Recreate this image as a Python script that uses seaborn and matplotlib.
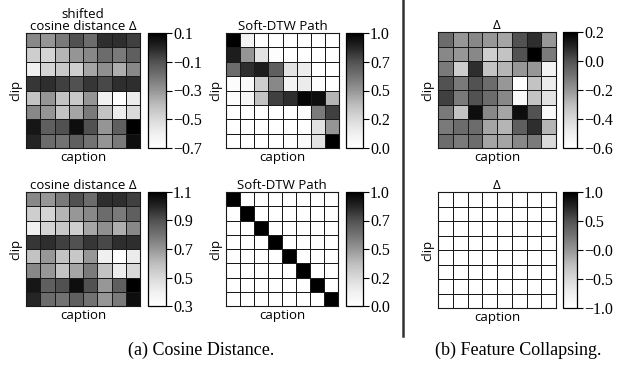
import matplotlib
matplotlib.use("Agg")
import matplotlib.pyplot as plt
import seaborn as sns
import numpy as np

# Values (8 clips x 8 captions)
shifted_cos = [
    [-0.26, -0.30, -0.22, -0.10, -0.18, -0.02, -0.02, -0.06],
    [-0.46, -0.48, -0.38, -0.30, -0.26, -0.18, -0.22, -0.14],
    [-0.60, -0.48, -0.44, -0.46, -0.34, -0.28, -0.36, -0.26],
    [-0.04, -0.02, -0.06, -0.10, -0.04, -0.08, -0.02, -0.02],
    [-0.42, -0.30, -0.42, -0.44, -0.30, -0.60, -0.70, -0.58],
    [-0.26, -0.30, -0.42, -0.34, -0.22, -0.42, -0.58, -0.50],
    [0.04, -0.14, -0.10, 0.06, -0.10, -0.30, -0.14, 0.10],
    [0.00, -0.18, -0.20, -0.14, -0.20, -0.30, -0.22, 0.06],
]
cos_dist = [
    [0.74, 0.70, 0.78, 0.90, 0.82, 0.98, 0.98, 0.94],
    [0.54, 0.52, 0.62, 0.70, 0.74, 0.82, 0.78, 0.86],
    [0.40, 0.52, 0.56, 0.54, 0.66, 0.72, 0.64, 0.74],
    [0.96, 0.98, 0.94, 0.90, 0.96, 0.92, 0.98, 0.98],
    [0.58, 0.70, 0.58, 0.56, 0.70, 0.40, 0.30, 0.42],
    [0.74, 0.70, 0.58, 0.66, 0.78, 0.58, 0.42, 0.50],
    [1.04, 0.86, 0.90, 1.06, 0.90, 0.70, 0.86, 1.10],
    [1.00, 0.82, 0.80, 0.86, 0.80, 0.70, 0.78, 1.06],
]
dtw_shifted = [
    [1.00, 0.10, 0.00, 0.00, 0.00, 0.00, 0.00, 0.00],
    [0.90, 0.50, 0.20, 0.02, 0.00, 0.00, 0.00, 0.00],
    [0.65, 0.85, 0.90, 0.70, 0.20, 0.15, 0.00, 0.00],
    [0.03, 0.05, 0.30, 0.55, 0.10, 0.15, 0.03, 0.00],
    [0.03, 0.08, 0.35, 0.80, 0.85, 0.98, 0.95, 0.40],
    [0.00, 0.00, 0.00, 0.00, 0.00, 0.03, 0.60, 0.80],
    [0.00, 0.00, 0.00, 0.00, 0.00, 0.00, 0.20, 0.50],
    [0.00, 0.00, 0.00, 0.00, 0.02, 0.05, 0.20, 1.00],
]
dtw_plain = [
    [1, 0, 0, 0, 0, 0, 0, 0],
    [0, 1, 0, 0, 0, 0, 0, 0],
    [0, 0, 1, 0, 0, 0, 0, 0],
    [0, 0, 0, 1, 0, 0, 0, 0],
    [0, 0, 0, 0, 1, 0, 0, 0],
    [0, 0, 0, 0, 0, 1, 0, 0],
    [0, 0, 0, 0, 0, 0, 1, 0],
    [0, 0, 0, 0, 0, 0, 0, 1],
]
delta_feat = [
    [-0.08, -0.20, -0.16, -0.20, -0.24, 0.00, 0.08, -0.20],
    [-0.16, -0.20, -0.16, -0.36, -0.32, 0.00, 0.20, -0.12],
    [-0.12, -0.36, 0.08, -0.32, -0.28, -0.20, -0.20, -0.52],
    [0.00, -0.12, 0.00, -0.08, -0.20, -0.60, -0.32, -0.48],
    [0.04, -0.12, 0.00, -0.08, -0.16, -0.56, -0.32, -0.44],
    [-0.12, -0.32, 0.16, -0.16, -0.24, 0.16, 0.00, -0.56],
    [-0.12, -0.08, -0.08, -0.24, -0.28, -0.04, 0.08, -0.28],
    [-0.08, -0.12, -0.08, -0.24, -0.24, -0.16, -0.12, -0.40],
]
delta_collapsed = [
    [-1.0, -1.0, -1.0, -1.0, -1.0, -1.0, -1.0, -1.0],
    [-1.0, -1.0, -1.0, -1.0, -1.0, -1.0, -1.0, -1.0],
    [-1.0, -1.0, -1.0, -1.0, -1.0, -1.0, -1.0, -1.0],
    [-1.0, -1.0, -1.0, -1.0, -1.0, -1.0, -1.0, -1.0],
    [-1.0, -1.0, -1.0, -1.0, -1.0, -1.0, -1.0, -1.0],
    [-1.0, -1.0, -1.0, -1.0, -1.0, -1.0, -1.0, -1.0],
    [-1.0, -1.0, -1.0, -1.0, -1.0, -1.0, -1.0, -1.0],
    [-1.0, -1.0, -1.0, -1.0, -1.0, -1.0, -1.0, -1.0],
]

# colorbar ticks / labels
shifted_ticks = [0.1, -0.1, -0.3, -0.5, -0.7]
shifted_labels = ["0.1", "\u22120.1", "\u22120.3", "\u22120.5", "\u22120.7"]
cos_ticks = [1.1, 0.9, 0.7, 0.5, 0.3]
cos_labels = ["1.1", "0.9", "0.7", "0.5", "0.3"]
dtw_ticks = [1.0, 0.75, 0.5, 0.25, 0.0]
dtw_labels = ["1.0", "0.7", "0.5", "0.2", "0.0"]
feat_ticks = [0.2, 0.0, -0.2, -0.4, -0.6]
feat_labels = ["0.2", "0.0", "\u22120.2", "\u22120.4", "\u22120.6"]
coll_ticks = [1.0, 0.5, 0.0, -0.5, -1.0]
coll_labels = ["1.0", "0.5", "\u22120.0", "\u22120.5", "\u22121.0"]

W, H = 629, 366
SANS = ["Open Sans", "DejaVu Sans"]
SERIF = ["Liberation Serif", "DejaVu Serif"]

fig = plt.figure(figsize=(W / 100, H / 100), dpi=100)


def px_axes(x0, y0, x1, y1):
    # pixel box (top-left origin) -> figure axes
    return fig.add_axes([x0 / W, 1 - y1 / H, (x1 - x0) / W, (y1 - y0) / H])


def plot_heatmap(box, cbox, data, title, vmin, vmax, ticks, labels):
    ax = px_axes(*box)
    cax = px_axes(*cbox)
    sns.heatmap(np.array(data), ax=ax, cbar_ax=cax, cmap="Greys", vmin=vmin, vmax=vmax,
                linewidths=0.45, linecolor="#1a1a1a", xticklabels=False, yticklabels=False)
    for s in ax.spines.values():
        s.set_visible(True)
        s.set_linewidth(0.8)
        s.set_color("#1a1a1a")
    ax.set_title(title, fontsize=9.5, family=SANS, pad=2, linespacing=0.95)
    ax.set_xlabel("caption", fontsize=9.5, family=SANS, labelpad=2)
    ax.set_ylabel("clip", fontsize=9.5, family=SANS, labelpad=3)

    cbar = ax.collections[0].colorbar
    cbar.set_ticks(ticks)
    cbar.set_ticklabels(labels)
    cbar.outline.set_edgecolor("black")
    cbar.outline.set_linewidth(0.9)
    cax.tick_params(length=4, width=0.8, pad=1, labelsize=11.5)
    for t in cax.get_yticklabels():
        t.set_family(SERIF)


# (a) cosine distance
plot_heatmap((26, 33, 140, 148), (148, 33, 166, 148), shifted_cos,
             "shifted\ncosine distance \u0394", -0.7, 0.1, shifted_ticks, shifted_labels)
plot_heatmap((226, 33, 339, 148), (346, 33, 363, 148), dtw_shifted,
             "Soft-DTW Path", 0.0, 1.0, dtw_ticks, dtw_labels)
plot_heatmap((26, 192, 140, 306), (148, 192, 166, 306), cos_dist,
             "cosine distance \u0394", 0.3, 1.1, cos_ticks, cos_labels)
plot_heatmap((226, 192, 338, 306), (346, 192, 363, 306), dtw_plain,
             "Soft-DTW Path", 0.0, 1.0, dtw_ticks, dtw_labels)

# (b) feature collapsing
plot_heatmap((438, 32, 556, 148), (563, 32, 577, 148), delta_feat,
             "\u0394", -0.6, 0.2, feat_ticks, feat_labels)
plot_heatmap((438, 192, 556, 308), (563, 192, 577, 308), delta_collapsed,
             "\u0394", -1.0, 1.0, coll_ticks, coll_labels)

# separator line
fig.add_artist(plt.Line2D([403 / W, 403 / W], [1 - 336 / H, 1.0], color="#333333", lw=1.8))

# sub captions
fig.text(201 / W, 1 - 350 / H, "(a) Cosine Distance.", ha="center", va="center",
         fontsize=13, family=SERIF)
fig.text(518 / W, 1 - 350 / H, "(b) Feature Collapsing.", ha="center", va="center",
         fontsize=13, family=SERIF)

fig.savefig("out.png", dpi=100)
plt.close(fig)
